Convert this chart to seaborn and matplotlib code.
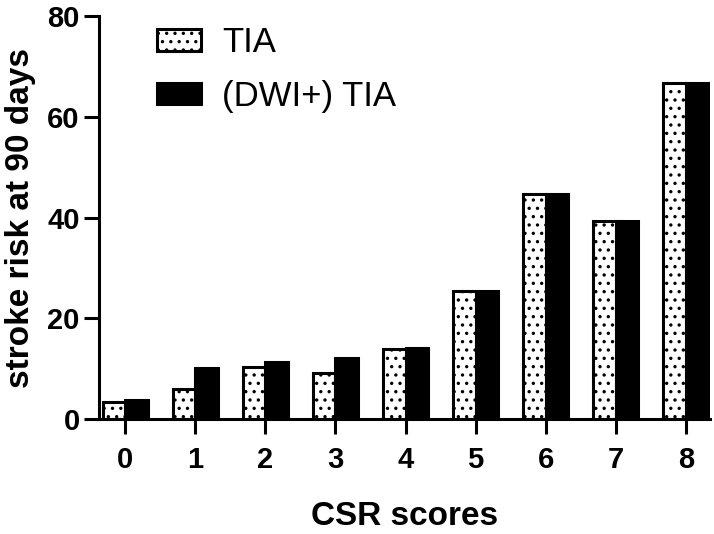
import matplotlib
matplotlib.use("Agg")
import matplotlib.pyplot as plt
import seaborn as sns
import pandas as pd

categories = ["0", "1", "2", "3", "4", "5", "6", "7", "8"]
tia = [3.4, 5.9, 10.3, 9.2, 13.9, 25.5, 44.6, 39.4, 66.7]
dwi_tia = [3.9, 10.1, 11.4, 12.1, 14.2, 25.5, 44.6, 39.4, 66.7]
series_names = ["TIA", "(DWI+) TIA"]
yticks = [0, 20, 40, 60, 80]

df = pd.DataFrame({
    "CSR": categories * 2,
    "risk": tia + dwi_tia,
    "group": [series_names[0]] * len(categories) + [series_names[1]] * len(categories),
})

sns.set_style("ticks")
plt.rcParams["font.family"] = ["Liberation Sans", "DejaVu Sans"]
plt.rcParams["hatch.linewidth"] = 1.2
for k in ["text.color", "axes.labelcolor", "xtick.color", "ytick.color", "axes.edgecolor"]:
    plt.rcParams[k] = "black"

fig = plt.figure(figsize=(7.14, 5.34), dpi=100)
ax = fig.add_axes([0.139, 0.215, 0.855, 0.755])

sns.barplot(data=df, x="CSR", y="risk", hue="group", order=categories,
            hue_order=series_names, palette=["white", "black"], width=0.64,
            gap=0, edgecolor="black", linewidth=2.2, saturation=1, ax=ax, legend=True)

n = len(categories)
for p in ax.patches[:n]:
    p.set_hatch("..")
    p.set_edgecolor("black")

ax.set_ylim(0, 80)
ax.set_xlim(-0.37, 8.34)
ax.set_yticks(yticks)
ax.set_yticklabels([str(t) for t in yticks])
for lab in ax.get_xticklabels() + ax.get_yticklabels():
    lab.set_fontweight("bold")
ax.tick_params(axis="both", labelsize=21, width=2.2, length=11)
ax.tick_params(axis="x", pad=8)
ax.tick_params(axis="y", pad=3)
for s in ["left", "bottom"]:
    ax.spines[s].set_linewidth(2.2)
sns.despine(ax=ax)

ax.set_xlabel("CSR scores", fontsize=24, fontweight="bold", labelpad=20)
ax.set_ylabel("stroke risk at 90 days", fontsize=24, fontweight="bold", labelpad=8)

leg = ax.legend(loc="upper left", bbox_to_anchor=(0.095, 0.975), frameon=False,
                fontsize=25, handlelength=1.27, handleheight=0.58, labelspacing=0.6,
                handletextpad=0.6, borderpad=0, borderaxespad=0)
handles = leg.legend_handles
handles[0].set_hatch("..")
handles[0].set_facecolor("white")
handles[0].set_edgecolor("black")
handles[0].set_linewidth(2.2)
handles[1].set_facecolor("black")
handles[1].set_edgecolor("black")

fig.savefig("out.png", dpi=100)
